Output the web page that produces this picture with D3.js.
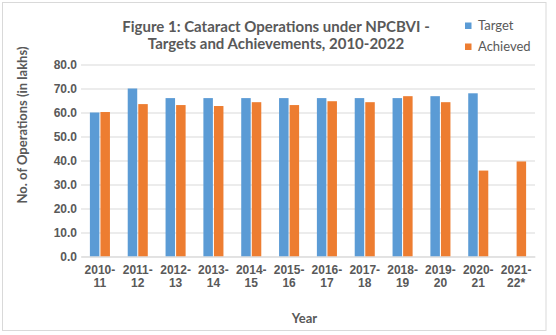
<!DOCTYPE html>
<html>
<head>
<meta charset="utf-8">
<script src="https://cdn.jsdelivr.net/npm/d3@7"></script>
<style>
    body { margin: 0; background: #fff; }
    svg { display: block; font-family: Lato, "Open Sans", sans-serif; }
    .tick text { fill: #595959; font-weight: bold; }
</style>
</head>
<body>
<script>

// data (lakh operations)
const YEARS = ["2010-11", "2011-12", "2012-13", "2013-14", "2014-15", "2015-16",
    "2016-17", "2017-18", "2018-19", "2019-20", "2020-21", "2021-22*"];
const TARGET = [60.0, 70.0, 66.0, 66.0, 66.0, 66.0, 66.0, 66.0, 66.0, 66.8, 68.0, null];
const ACHIEVED = [60.2, 63.5, 63.1, 62.7, 64.3, 63.1, 64.7, 64.3, 66.8, 64.3, 35.8, 39.6];
const SERIES = ["Target", "Achieved"];
const Y_TICKS = [0, 10, 20, 30, 40, 50, 60, 70, 80];

// setup
const WIDTH = 556;
const HEIGHT = 335;
const margin = {top: 64.5, right: 21, bottom: 78.5, left: 81};
const TEXT_COLOR = "#595959";
const GRID_COLOR = "#d9d9d9";
const COLORS = {Target: "#5b9bd5", Achieved: "#ed7d31"};

const rows = YEARS.map((year, i) => ({year, Target: TARGET[i], Achieved: ACHIEVED[i]}));

const svg = d3.select("body").append("svg")
    .attr("width", WIDTH)
    .attr("height", HEIGHT);

// chart border
svg.append("rect")
    .attr("x", 2.5).attr("y", 2.5)
    .attr("width", 543.5).attr("height", 328)
    .attr("fill", "#fff")
    .attr("stroke", GRID_COLOR);

const x0 = d3.scaleBand()
    .domain(YEARS)
    .range([margin.left, WIDTH - margin.right])
    .paddingInner(0.47)
    .paddingOuter(0.235);

const x1 = d3.scaleBand()
    .domain(SERIES)
    .range([0, x0.bandwidth()])
    .paddingInner(0.1);

const y = d3.scaleLinear()
    .domain([0, 80])
    .range([HEIGHT - margin.bottom, margin.top]);

// gridlines + y labels
const y_axis = svg.append("g")
    .attr("transform", `translate(${margin.left},0)`)
    .call(d3.axisLeft(y)
        .tickValues(Y_TICKS)
        .tickFormat(d3.format(".1f"))
        .tickSize(-(WIDTH - margin.left - margin.right))
        .tickPadding(4));

y_axis.select(".domain").remove();
y_axis.selectAll(".tick line")
    .attr("stroke", GRID_COLOR);
y_axis.selectAll(".tick text")
    .style("font-size", "12px");

// bars
const groups = svg.append("g")
    .selectAll("g")
    .data(rows)
    .join("g")
    .attr("transform", d => `translate(${x0(d.year)},0)`);

groups.selectAll("rect")
    .data(d => SERIES.filter(s => d[s] != null).map(s => ({key: s, value: d[s]})))
    .join("rect")
    .attr("x", d => x1(d.key))
    .attr("width", x1.bandwidth())
    .attr("y", d => y(d.value))
    .attr("height", d => y(0) - y(d.value))
    .attr("fill", d => COLORS[d.key]);

// x axis, two-line labels
const x_axis = svg.append("g")
    .attr("transform", `translate(0,${HEIGHT - margin.bottom})`)
    .call(d3.axisBottom(x0).tickSize(0).tickFormat(""));

x_axis.select(".domain").attr("stroke", GRID_COLOR);

x_axis.selectAll(".tick").append("text")
    .attr("text-anchor", "middle")
    .style("font-size", "12px")
    .each(function (d) {
        const cut = d.indexOf("-") + 1;
        const label = d3.select(this);
        label.append("tspan").attr("x", 0).attr("y", 17).text(d.slice(0, cut));
        label.append("tspan").attr("x", 0).attr("y", 30.5).text(d.slice(cut));
    });

// title, two separate lines
svg.append("g")
    .selectAll("text")
    .data(["Figure 1: Cataract Operations under NPCBVI -", "Targets and Achievements, 2010-2022"])
    .join("text")
    .attr("text-anchor", "middle")
    .attr("x", 276)
    .attr("y", (d, i) => 31.5 + i * 17)
    .attr("fill", TEXT_COLOR)
    .style("font-weight", "bold")
    .style("font-size", "15px")
    .text(d => d);

// axis titles
svg.append("text")
    .attr("text-anchor", "middle")
    .attr("transform", "translate(27,125) rotate(-90)")
    .attr("fill", TEXT_COLOR)
    .style("font-weight", "bold")
    .style("font-size", "13px")
    .text("No. of Operations (in lakhs)");

svg.append("text")
    .attr("text-anchor", "middle")
    .attr("x", 304.5)
    .attr("y", 323.3)
    .attr("fill", TEXT_COLOR)
    .style("font-weight", "bold")
    .style("font-size", "13px")
    .text("Year");

// legend
const legend = svg.append("g")
    .selectAll("g")
    .data(SERIES)
    .join("g")
    .attr("transform", (d, i) => `translate(465,${22.5 + i * 21})`);

legend.append("rect")
    .attr("width", 6.5)
    .attr("height", 6.5)
    .attr("fill", d => COLORS[d]);

legend.append("text")
    .attr("x", 13)
    .attr("y", 7)
    .attr("fill", TEXT_COLOR)
    .style("font-size", "13px")
    .text(d => d);

</script>
</body>
</html>
